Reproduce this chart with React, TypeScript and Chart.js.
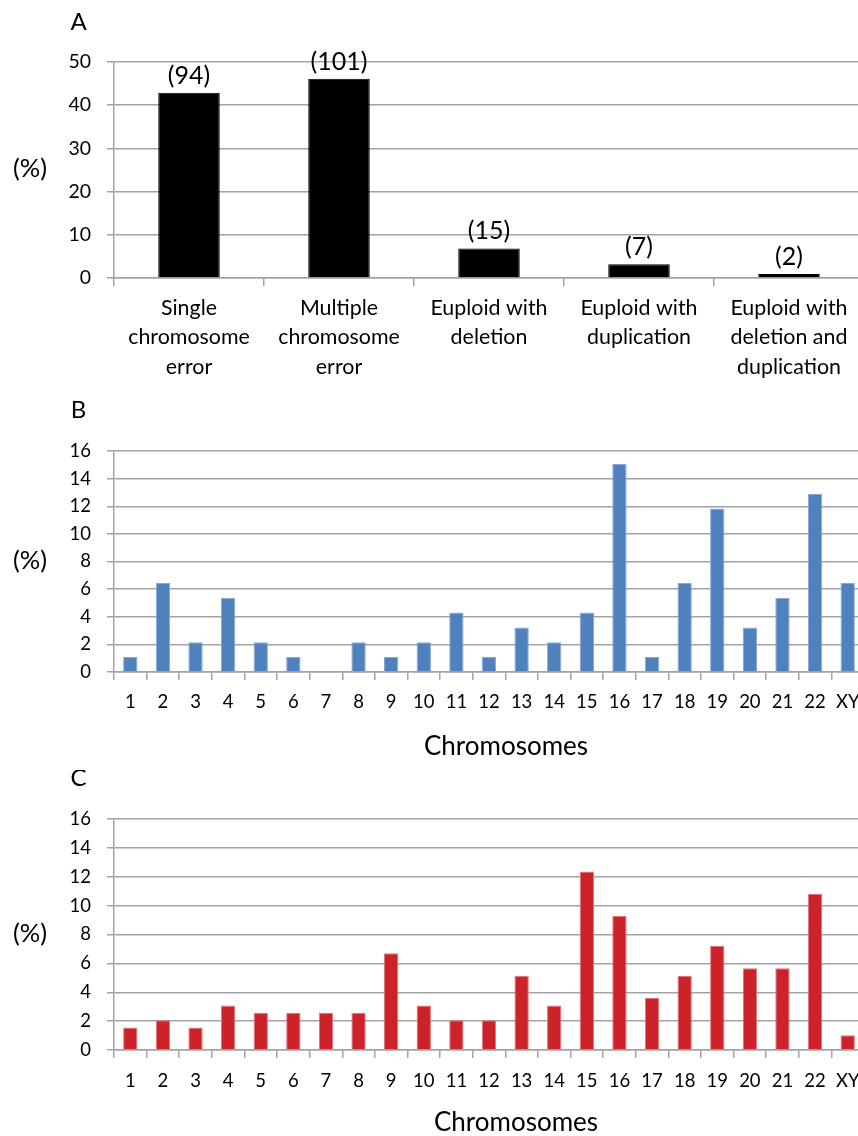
import { useEffect, useRef } from "react";
import { Chart, registerables } from "chart.js";

Chart.register(...registerables);

// ---------- data ----------
const typeLabels: string[][] = [
  ["Single", "chromosome", "error"],
  ["Multiple", "chromosome", "error"],
  ["Euploid with", "deletion"],
  ["Euploid with", "duplication"],
  ["Euploid with", "deletion and", "duplication"],
];
const typeCounts = [94, 101, 15, 7, 2];
const typePercents = [42.9, 46.1, 6.85, 3.2, 0.91];
const typeAxisMax = 50;
const typeAxisStep = 10;

const chromosomes = [
  "1", "2", "3", "4", "5", "6", "7", "8", "9", "10", "11", "12",
  "13", "14", "15", "16", "17", "18", "19", "20", "21", "22", "XY",
];
const panelBPercents = [
  1.08, 6.45, 2.15, 5.38, 2.15, 1.08, 0, 2.15, 1.08, 2.15, 4.3, 1.08,
  3.23, 2.15, 4.3, 15.05, 1.08, 6.45, 11.83, 3.23, 5.38, 12.9, 6.45,
];
const panelCPercents = [
  1.55, 2.06, 1.55, 3.09, 2.58, 2.58, 2.58, 2.58, 6.7, 3.09, 2.06, 2.06,
  5.15, 3.09, 12.37, 9.28, 3.61, 5.15, 7.22, 5.67, 5.67, 10.82, 1.03,
];
const chromAxisMax = 16;
const chromAxisStep = 2;

const xTitle = "Chromosomes";
const yTitle = "(%)";

// ---------- styling ----------
const FONT = "Lato, 'Open Sans', sans-serif";
const GRID = "#a3a3a3";
const CANVAS_W = 900;

const panelTextPlugin = {
  id: "panelText",
  afterDraw(chart: any, _args: any, opts: any) {
    const ctx = chart.ctx;
    const area = chart.chartArea;
    ctx.save();
    ctx.fillStyle = "#000";
    ctx.textBaseline = "middle";
    ctx.textAlign = "center";
    ctx.font = `24px ${FONT}`;
    if (opts.letter) ctx.fillText(opts.letter, 78.5, opts.letterY);
    ctx.font = `25.5px ${FONT}`;
    ctx.fillText(yTitle, 30, (area.top + area.bottom) / 2 - 1);
    if (opts.title) {
      ctx.font = `26px ${FONT}`;
      ctx.fillText(opts.title, opts.titleX, opts.titleY);
    }
    if (opts.valueLabels) {
      ctx.font = `25px ${FONT}`;
      const meta = chart.getDatasetMeta(0);
      meta.data.forEach((bar: any, i: number) => {
        ctx.fillText(opts.valueLabels[i], bar.x, bar.y - 17);
      });
    }
    ctx.restore();
  },
};

type PanelCfg = {
  labels: any[];
  values: number[];
  color: string;
  border: string;
  barPct: number;
  max: number;
  step: number;
  height: number;
  padTop: number;
  xHeight: number;
  xTickPad: number;
  xFontSize: number;
  xLineHeight: number;
  yFontSize: number;
  letter: string;
  letterY: number;
  title?: string;
  titleX?: number;
  titleY?: number;
  valueLabels?: string[];
};

function buildChart(canvas: HTMLCanvasElement, c: PanelCfg) {
  return new Chart(canvas, {
    type: "bar",
    data: {
      labels: c.labels,
      datasets: [
        {
          data: c.values,
          backgroundColor: c.color,
          borderColor: c.border,
          borderWidth: 1,
          barPercentage: c.barPct,
          categoryPercentage: 1,
        },
      ],
    },
    options: {
      animation: false,
      responsive: false,
      devicePixelRatio: 1,
      layout: { padding: { top: c.padTop, right: CANVAS_W - 864, left: 0, bottom: 0 } },
      plugins: {
        legend: { display: false },
        tooltip: { enabled: false },
        title: { display: false },
        panelText: {
          letter: c.letter,
          letterY: c.letterY,
          valueLabels: c.valueLabels,
          title: c.title,
          titleX: c.titleX,
          titleY: c.titleY,
        },
      } as any,
      scales: {
        x: {
          grid: {
            display: true,
            drawOnChartArea: false,
            drawTicks: true,
            tickLength: 8,
            color: GRID,
            lineWidth: 1.5,
          },
          border: { display: true, color: GRID, width: 1.5 },
          ticks: {
            color: "#000",
            font: { family: FONT, size: c.xFontSize, lineHeight: c.xLineHeight },
            padding: c.xTickPad,
            maxRotation: 0,
            minRotation: 0,
            autoSkip: false,
          },
          afterFit(scale: any) {
            scale.height = c.xHeight;
          },
        },
        y: {
          min: 0,
          max: c.max,
          grid: {
            color: GRID,
            lineWidth: 1.5,
            tickLength: 7,
            drawTicks: true,
          },
          border: { display: true, color: GRID, width: 1.5 },
          ticks: {
            stepSize: c.step,
            color: "#000",
            font: { family: FONT, size: c.yFontSize },
            padding: 16,
          },
          afterFit(scale: any) {
            scale.width = 114;
          },
        },
      },
    },
    plugins: [panelTextPlugin],
  } as any);
}

const panels: (PanelCfg & { top: number })[] = [
  {
    top: 0,
    labels: typeLabels,
    values: typePercents,
    color: "#000000",
    border: "#000000",
    barPct: 0.41,
    max: typeAxisMax,
    step: typeAxisStep,
    height: 390,
    padTop: 62,
    xHeight: 112,
    xTickPad: 7,
    xFontSize: 21.4,
    xLineHeight: 1.38,
    yFontSize: 19.5,
    letter: "A",
    letterY: 22,
    valueLabels: typeCounts.map((n) => `(${n})`),
  },
  {
    top: 390,
    labels: chromosomes,
    values: panelBPercents,
    color: "#4f81bd",
    border: "#86a8d6",
    barPct: 0.44,
    max: chromAxisMax,
    step: chromAxisStep,
    height: 385,
    padTop: 61,
    xHeight: 103,
    xTickPad: 11,
    xFontSize: 18.5,
    xLineHeight: 1.2,
    yFontSize: 18.5,
    letter: "B",
    letterY: 20,
    title: xTitle,
    titleX: 506,
    titleY: 357,
  },
  {
    top: 770,
    labels: chromosomes,
    values: panelCPercents,
    color: "#cc2229",
    border: "#e0777b",
    barPct: 0.44,
    max: chromAxisMax,
    step: chromAxisStep,
    height: 366,
    padTop: 49,
    xHeight: 86,
    xTickPad: 12,
    xFontSize: 18.5,
    xLineHeight: 1.2,
    yFontSize: 18.5,
    letter: "C",
    letterY: 8,
    title: xTitle,
    titleX: 516,
    titleY: 353,
  },
];

function Panel({ cfg }: { cfg: PanelCfg & { top: number } }) {
  const ref = useRef<HTMLCanvasElement | null>(null);
  useEffect(() => {
    if (!ref.current) return;
    const chart = buildChart(ref.current, cfg);
    return () => chart.destroy();
  }, [cfg]);
  return (
    <canvas
      ref={ref}
      width={CANVAS_W}
      height={cfg.height}
      style={{
        position: "absolute",
        left: 0,
        top: cfg.top,
        width: CANVAS_W,
        height: cfg.height,
        display: "block",
      }}
    />
  );
}

export default function App() {
  return (
    <div
      style={{
        position: "absolute",
        left: 0,
        top: 0,
        width: 858,
        height: 1136,
        overflow: "hidden",
        background: "#ffffff",
      }}
    >
      {panels.map((p, i) => (
        <Panel key={i} cfg={p} />
      ))}
    </div>
  );
}
